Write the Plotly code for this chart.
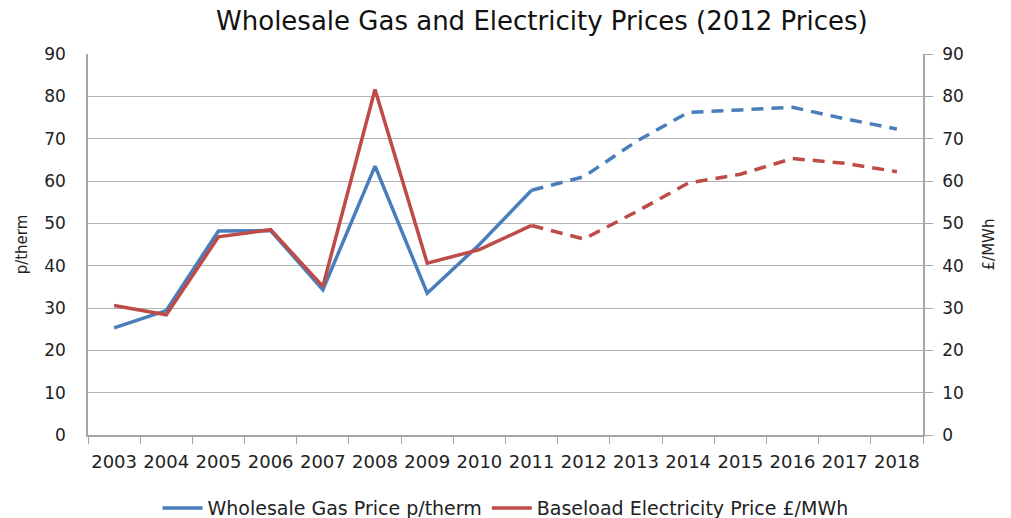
import plotly.graph_objects as go

years = [str(y) for y in range(2003, 2019)]
gas = [25.3, 29.4, 48.2, 48.3, 34.3, 63.5, 33.5, 45.0, 57.8, 61.0, 69.3, 76.2, 76.8, 77.4, 74.7, 72.3]
elec = [30.6, 28.4, 46.8, 48.5, 35.1, 81.6, 40.6, 43.8, 49.5, 46.3, 52.7, 59.5, 61.6, 65.3, 64.2, 62.2]
split = 8  # index of 2011: actuals up to here, projections after

blue = "#4a7ebb"
red = "#be4b48"
font = "DejaVu Sans"

fig = go.Figure()
fig.add_trace(go.Scatter(x=years[:split + 1], y=gas[:split + 1], mode="lines",
                         name="Wholesale Gas Price p/therm",
                         line=dict(color=blue, width=3.5), yaxis="y"))
fig.add_trace(go.Scatter(x=years[split:], y=gas[split:], mode="lines",
                         showlegend=False,
                         line=dict(color=blue, width=3.5, dash="12px,8px"), yaxis="y"))
fig.add_trace(go.Scatter(x=years[:split + 1], y=elec[:split + 1], mode="lines",
                         name="Baseload Electricity Price £/MWh",
                         line=dict(color=red, width=3.5), yaxis="y2"))
fig.add_trace(go.Scatter(x=years[split:], y=elec[split:], mode="lines",
                         showlegend=False,
                         line=dict(color=red, width=3.5, dash="12px,8px"), yaxis="y2"))

grid = "#b4b4b4"
axis_line = "#a6a6a6"
fig.update_layout(
    width=1011, height=518,
    margin=dict(l=88, r=88, t=54, b=83),
    paper_bgcolor="white", plot_bgcolor="white",
    font=dict(family=font, size=16, color="#222222"),
    title=dict(text="Wholesale Gas and Electricity Prices (2012 Prices)",
               x=0.536, xanchor="center", xref="container", yref="container",
               y=0.959, yanchor="middle",
               font=dict(family=font, size=26, color="#111111")),
    xaxis=dict(type="category", tickson="boundaries", ticks="outside", ticklen=7,
               tickcolor=axis_line, showline=True, linecolor=axis_line, linewidth=1.5,
               showgrid=False, tickfont=dict(size=18), range=[-0.5, 15.5], tickangle=0,
               automargin=False, ticklabelstandoff=10),
    yaxis=dict(range=[0, 90], dtick=10, showgrid=True, gridcolor=grid, gridwidth=1.2,
               showline=True, linecolor=axis_line, linewidth=1.5, zeroline=False,
               ticks="", tickfont=dict(size=17), automargin=False, ticklabelstandoff=17,
               title=dict(text="p/therm", font=dict(size=15), standoff=13)),
    yaxis2=dict(range=[0, 90], dtick=10, overlaying="y", side="right", showgrid=False,
                showline=True, linecolor=axis_line, linewidth=1.5, zeroline=False,
                ticks="outside", ticklen=8, tickcolor=axis_line, tickfont=dict(size=17),
                automargin=False, ticklabelstandoff=6,
                title=dict(text="£/MWh", font=dict(size=15), standoff=21)),
    legend=dict(orientation="h", x=0.5, xanchor="center", yref="container", y=0.019,
                yanchor="middle", font=dict(size=19), itemwidth=40),
)

fig.write_html(
    "out.html",
    config={"displayModeBar": False},
    post_script="document.body.style.margin='0';document.body.style.overflow='hidden';",
)
